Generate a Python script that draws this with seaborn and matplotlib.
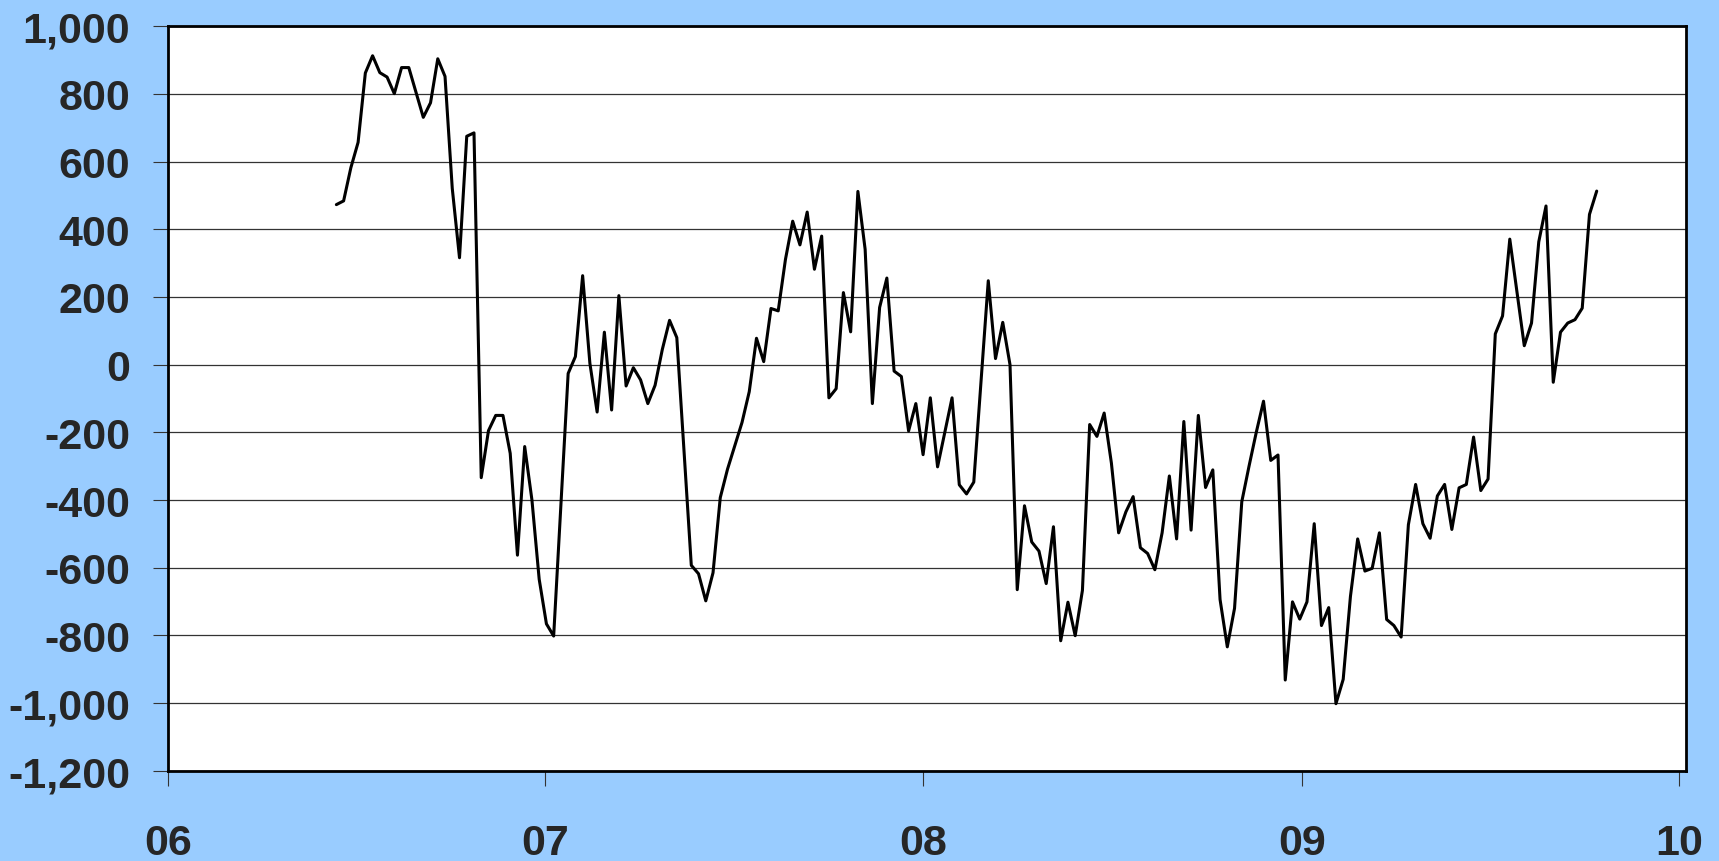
import pandas as pd
import numpy as np
import seaborn as sns
import matplotlib.pyplot as plt
import matplotlib.dates as mdates
from matplotlib.ticker import FuncFormatter, MultipleLocator

# weekly readings, first week 2006-06-13
start_date = '2006-06-13'
vals_2006 = [473, 484, 582, 657, 862, 913, 863, 850, 801, 878, 878, 805, 731, 774, 904,
             852, 521, 316, 675, 685, -334, -195, -150, -150, -262, -563, -242, -400, -634]
vals_2007 = [-766, -802, -415, -26, 24, 263, 4, -140, 96, -134, 204, -63, -9, -45, -115,
             -61, 45, 131, 80, -256, -593, -618, -698, -615, -393, -309, -240, -171, -80,
             78, 9, 166, 159, 311, 424, 354, 451, 282, 380, -98, -71, 213, 97, 512, 341,
             -115, 169, 256, -19, -35, -196, -115]
vals_2008 = [-266, -98, -302, -200, -98, -355, -382, -347, -50, 248, 18, 125, 0, -665,
             -417, -524, -551, -647, -479, -816, -702, -801, -667, -177, -212, -143, -291,
             -497, -435, -390, -541, -558, -606, -497, -329, -515, -168, -489, -150, -363,
             -311, -694, -834, -720, -405, -300, -200, -108, -283, -267, -932, -701]
vals_2009 = [-752, -701, -470, -771, -718, -1002, -930, -685, -515, -610, -602, -497,
             -753, -771, -805, -473, -354, -470, -513, -388, -354, -487, -364, -354, -214,
             -372, -338, 91, 144, 371, 213, 56, 123, 363, 469, -52, 96, 123, 133, 167,
             444, 513]

values = vals_2006 + vals_2007 + vals_2008 + vals_2009
df = pd.DataFrame({'date': pd.date_range(start_date, periods=len(values), freq='7D'),
                   'value': values})

sns.set_style('white')
plt.rcParams['font.family'] = ['Liberation Sans', 'DejaVu Sans']
plt.rcParams['font.weight'] = 'bold'

W, H = 1719, 862
fig = plt.figure(figsize=(W / 100, H / 100), dpi=100, facecolor='#99CCFF')
ax = fig.add_axes([167.7 / W, 1 - 771.7 / H, (1685.7 - 167.7) / W, (771.7 - 27.3) / H])
ax.set_facecolor('white')

sns.lineplot(data=df, x='date', y='value', color='black', linewidth=2.2, ax=ax)

ax.set_ylim(-1200, 1000)
ax.set_xlim(pd.Timestamp('2006-01-01'), pd.Timestamp('2010-01-07'))
ax.yaxis.set_major_locator(MultipleLocator(200))
ax.yaxis.set_major_formatter(FuncFormatter(lambda v, p: f'{v:,.0f}'))
ax.xaxis.set_major_locator(mdates.YearLocator())
ax.xaxis.set_major_formatter(mdates.DateFormatter('%y'))

ax.grid(axis='y', color='#333333', linewidth=0.9)
ax.grid(axis='x', visible=False)
ax.set_axisbelow(True)
for s in ax.spines.values():
    s.set_visible(True)
    s.set_color('black')
    s.set_linewidth(2.0)

ax.tick_params(axis='y', direction='out', length=11, width=0.8, color='#333333',
               labelsize=31, pad=16, left=True)
ax.tick_params(axis='x', direction='out', length=11, width=0.8, color='#333333',
               labelsize=31, pad=27, bottom=True)
for lab in ax.get_xticklabels() + ax.get_yticklabels():
    lab.set_fontweight('bold')

ax.set_xlabel('')
ax.set_ylabel('')

plt.savefig('out.png', dpi=100, facecolor=fig.get_facecolor())
